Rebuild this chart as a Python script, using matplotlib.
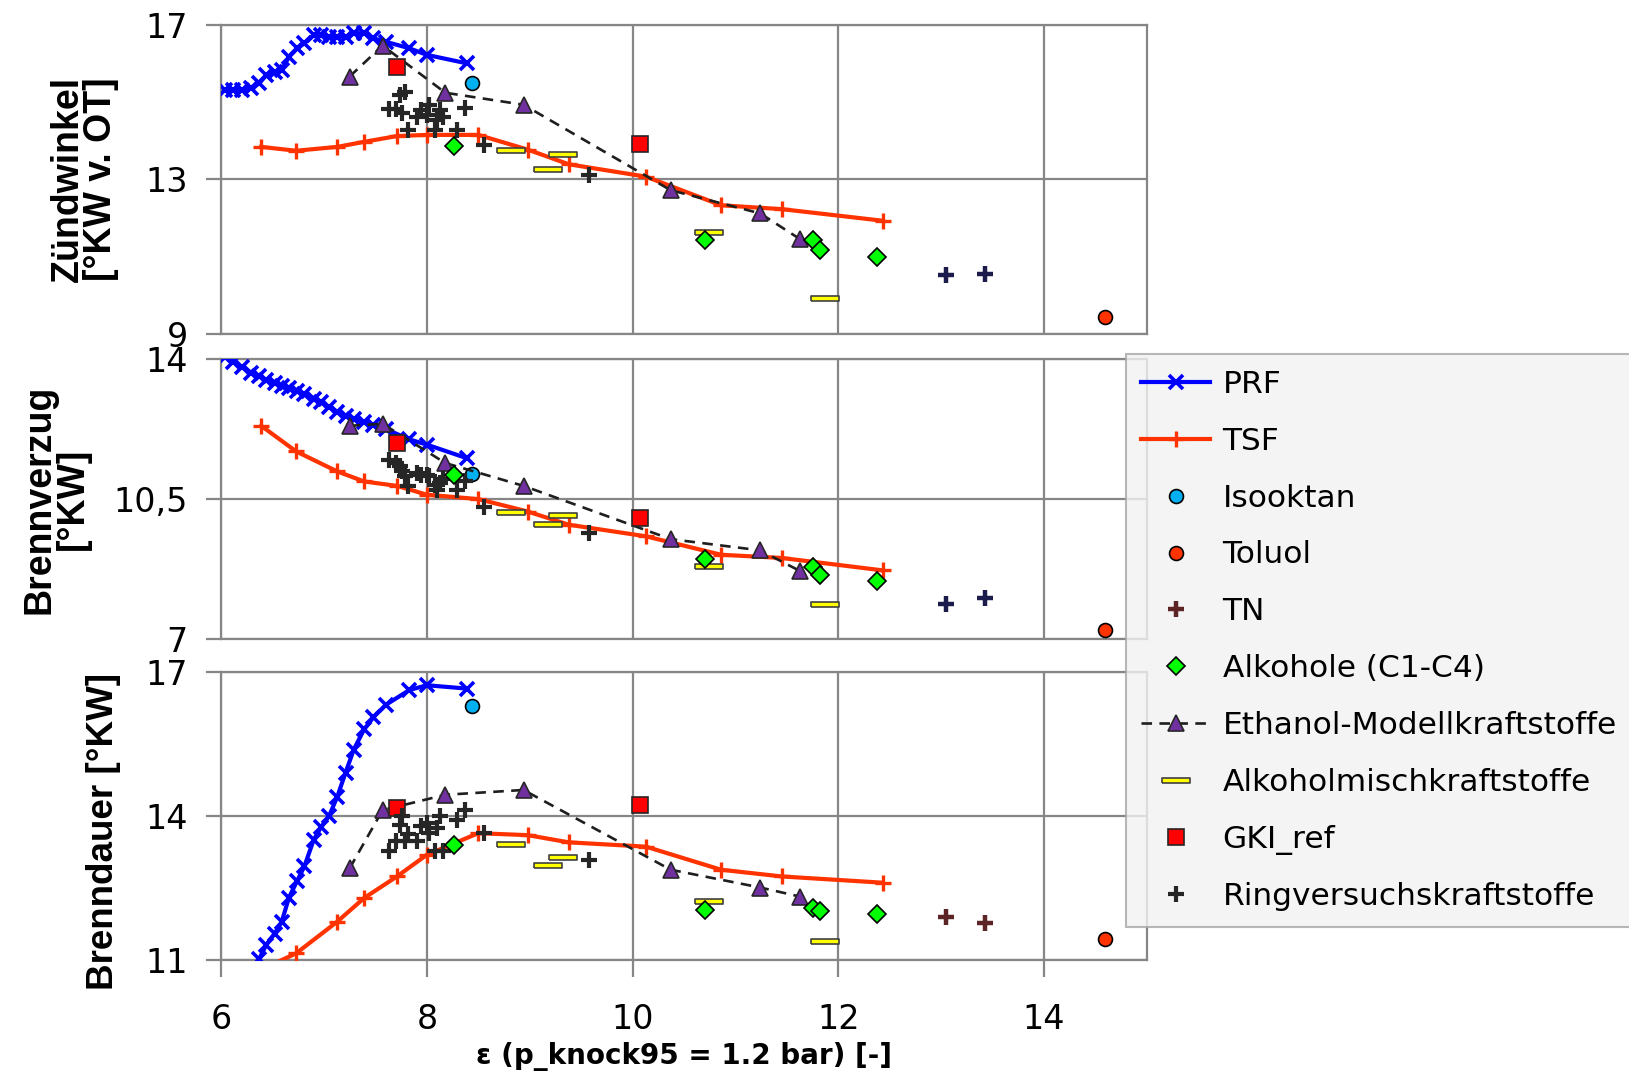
import numpy as np
import matplotlib
matplotlib.use("Agg")
import matplotlib.pyplot as plt
from matplotlib import font_manager

# --- data ------------------------------------------------------------------
prf_x = [6.04, 6.12, 6.20, 6.29, 6.37, 6.44, 6.52, 6.59, 6.66, 6.74, 6.81, 6.90,
         6.97, 7.05, 7.13, 7.21, 7.29, 7.39, 7.48, 7.60, 7.83, 8.00, 8.39]
prf_zw = [15.31, 15.31, 15.31, 15.35, 15.48, 15.70, 15.78, 15.83, 16.17, 16.39, 16.52, 16.73,
          16.73, 16.69, 16.69, 16.69, 16.78, 16.78, 16.65, 16.56, 16.39, 16.22, 16.00]
prf_bv = [14.05, 13.93, 13.80, 13.66, 13.57, 13.48, 13.40, 13.32, 13.28, 13.20, 13.12, 13.01,
          12.92, 12.80, 12.68, 12.57, 12.50, 12.42, 12.35, 12.25, 11.99, 11.86, 11.52]
prf_bd = [np.nan, np.nan, np.nan, np.nan, 11.02, 11.32, 11.55, 11.80, 12.30, 12.65, 12.95, 13.50,
          13.76, 14.00, 14.40, 14.90, 15.38, 15.80, 16.05, 16.31, 16.62, 16.72, 16.65]

tsf_x = [6.39, 6.73, 7.13, 7.39, 7.71, 8.00, 8.50, 8.98, 9.38, 10.13, 10.86, 11.45, 12.43]
tsf_zw = [13.84, 13.74, 13.84, 13.97, 14.12, 14.15, 14.15, 13.77, 13.39, 13.07, 12.33, 12.23, 11.93]
tsf_bv = [12.33, 11.69, 11.19, 10.94, 10.83, 10.61, 10.50, 10.19, 9.86, 9.57, 9.11, 9.03, 8.72]
tsf_bd = [10.80, 11.14, 11.80, 12.29, 12.74, 13.19, 13.64, 13.60, 13.45, 13.36, 12.88, 12.74, 12.61]

iso_x = [8.44]
iso_zw, iso_bv, iso_bd = [15.50], [11.13], [16.29]

tol_x = [14.59]
tol_zw, tol_bv, tol_bd = [9.43], [7.22], [11.44]

tn_x = [13.05, 13.43]
tn_zw = [10.53, 10.54]
tn_bv = [7.89, 8.03]
tn_bd = [11.89, 11.77]

alk_x = [8.26, 10.70, 11.75, 11.82, 12.38]
alk_zw = [13.87, 11.43, 11.43, 11.17, 11.00]
alk_bv = [11.09, 9.01, 8.80, 8.61, 8.46]
alk_bd = [13.40, 12.05, 12.08, 12.03, 11.96]

eth_x = [7.25, 7.57, 8.18, 8.94, 10.37, 11.24, 11.63]
eth_zw = [15.66, 16.46, 15.24, 14.93, 12.72, 12.12, 11.45]
eth_bv = [12.33, 12.38, 11.40, 10.83, 9.50, 9.22, 8.70]
eth_bd = [12.91, 14.12, 14.44, 14.54, 12.88, 12.51, 12.32]

mix_x = [8.82, 9.18, 9.32, 10.74, 11.87]
mix_zw = [13.75, 13.27, 13.65, 11.64, 9.93]
mix_bv = [10.19, 9.88, 10.11, 8.82, 7.88]
mix_bd = [13.42, 12.97, 13.15, 12.23, 11.39]

gki_x = [7.71, 10.07]
gki_zw = [15.91, 13.91]
gki_bv = [11.91, 10.03]
gki_bd = [14.16, 14.23]

ring_x = [7.63, 7.70, 7.74, 7.76, 7.79, 7.82, 7.90, 7.94, 8.00, 8.02, 8.08, 8.10,
          8.13, 8.16, 8.29, 8.37, 8.56, 9.58]
ring_zw = [14.81, 14.81, 15.18, 14.71, 15.27, 14.27, 14.62, 14.79, 14.66, 14.92, 14.27, 14.53,
           14.79, 14.62, 14.27, 14.84, 13.89, 13.11]
ring_bv = [11.48, 11.40, 11.32, 11.19, 11.07, 10.82, 11.15, 11.11, 11.11, 11.07, 10.86, 10.73,
           10.90, 11.00, 10.73, 10.94, 10.30, 9.65]
ring_bd = [13.26, 13.47, 13.81, 13.99, 13.47, 13.62, 13.47, 13.78, 13.85, 13.64, 13.26, 13.74,
           13.99, 13.26, 13.92, 14.12, 13.64, 13.08]

y_labels = ["Zündwinkel\n[°KW v. OT]", "Brennverzug\n[°KW]", "Brenndauer [°KW]"]
y_ticks = [[9, 13, 17], [7, 10.5, 14], [11, 14, 17]]
y_ticklabels = [["9", "13", "17"], ["7", "10,5", "14"], ["11", "14", "17"]]
x_ticks = [6, 8, 10, 12, 14]
x_label = "ε (p_knock95 = 1.2 bar) [-]"

# --- style -----------------------------------------------------------------
GRID = "#868686"
names = {f.name for f in font_manager.fontManager.ttflist}
if "Liberation Sans Narrow" in names:
    ylab_font, ylab_size = "Liberation Sans Narrow", 31
else:
    ylab_font, ylab_size = "Liberation Sans", 27

bar_marker = [(-1, -0.18), (1, -0.18), (1, 0.18), (-1, 0.18), (-1, -0.18)]

fig = plt.figure(figsize=(16.29, 10.74), dpi=100)

left, width = 0.1357, 0.5684
boxes = [(0.689, 0.288), (0.4048, 0.261), (0.1061, 0.2684)]
panels = [
    (prf_zw, tsf_zw, iso_zw, tol_zw, tn_zw, alk_zw, eth_zw, mix_zw, gki_zw, ring_zw, "#1c1c4c"),
    (prf_bv, tsf_bv, iso_bv, tol_bv, tn_bv, alk_bv, eth_bv, mix_bv, gki_bv, ring_bv, "#1c1c4c"),
    (prf_bd, tsf_bd, iso_bd, tol_bd, tn_bd, alk_bd, eth_bd, mix_bd, gki_bd, ring_bd, "#5c2424"),
]

axes = []
for i, (bottom, height) in enumerate(boxes):
    ax = fig.add_axes([left, bottom, width, height])
    prf, tsf, iso, tol, tn, alk, eth, mix, gki, ring, tn_col = panels[i]

    h_prf, = ax.plot(prf_x, prf, color="#0000ff", lw=3.0, marker="x", ms=10, mew=2.6,
                     label="PRF", zorder=4)
    h_tsf, = ax.plot(tsf_x, tsf, color="#ff3300", lw=3.0, marker="+", ms=12, mew=2.4,
                     label="TSF", zorder=4)
    h_iso, = ax.plot(iso_x, iso, ls="none", marker="o", ms=10, mfc="#00b0f0", mec="black",
                     mew=1.2, label="Isooktan", zorder=5)
    h_tol, = ax.plot(tol_x, tol, ls="none", marker="o", ms=10, mfc="#ff3300", mec="black",
                     mew=1.2, label="Toluol", zorder=5)
    h_tn, = ax.plot(tn_x, tn, ls="none", marker="+", ms=11, mew=3.2, color=tn_col,
                    label="TN", zorder=5)
    h_alk, = ax.plot(alk_x, alk, ls="none", marker="D", ms=9.5, mfc="#00ff00", mec="black",
                     mew=1.2, label="Alkohole (C1-C4)", zorder=6)
    h_eth, = ax.plot(eth_x, eth, color="#1e1e1e", lw=1.9, ls=(0, (4, 2.8)), marker="^", ms=12,
                     mfc="#7030a0", mec="#262626", mew=1.2,
                     label="Ethanol-Modellkraftstoffe", zorder=5)
    h_mix, = ax.plot(mix_x, mix, ls="none", marker=bar_marker, ms=20, mfc="#ffff00",
                     mec="#404040", mew=1.2, label="Alkoholmischkraftstoffe", zorder=5)
    h_gki, = ax.plot(gki_x, gki, ls="none", marker="s", ms=12, mfc="#ff0000", mec="#262626",
                     mew=1.2, label="GKI_ref", zorder=5)
    h_ring, = ax.plot(ring_x, ring, ls="none", marker="+", ms=11, mew=3.0, color="#262626",
                      label="Ringversuchskraftstoffe", zorder=5)

    ax.set_xlim(6, 15)
    ax.set_ylim(y_ticks[i][0], y_ticks[i][-1])
    ax.set_xticks(x_ticks)
    ax.set_yticks(y_ticks[i])
    ax.set_yticklabels(y_ticklabels[i])
    ax.set_axisbelow(True)
    ax.grid(True, color=GRID, lw=1.6)
    for sp in ax.spines.values():
        sp.set_color(GRID)
        sp.set_linewidth(1.6)
    ax.tick_params(axis="y", direction="out", length=11, width=1.6, color=GRID,
                   labelsize=24, pad=13)
    if i < 2:
        ax.tick_params(axis="x", length=0, labelbottom=False)
    else:
        ax.tick_params(axis="x", direction="out", length=12, width=1.6, color=GRID,
                       labelsize=24, pad=19)
    axes.append(ax)

handles = [h_prf, h_tsf, h_iso, h_tol, h_tn, h_alk, h_eth, h_mix, h_gki, h_ring]
leg = fig.legend(handles=handles, loc="upper left", bbox_to_anchor=(0.691, 0.670),
                 fontsize=22.5, frameon=True, fancybox=False, borderpad=0.5,
                 labelspacing=0.89, handlelength=2.2, handletextpad=0.4,
                 borderaxespad=0.0)
leg.get_frame().set_facecolor("#f2f2f2")
leg.get_frame().set_edgecolor("#a6a6a6")
leg.get_frame().set_linewidth(1.5)

fig.text(0.0516, 0.833, y_labels[0], rotation=90, ha="center", va="center",
         multialignment="center", fontsize=ylab_size, fontweight="bold",
         family=ylab_font, linespacing=0.9)
fig.text(0.0344, 0.5354, y_labels[1], rotation=90, ha="center", va="center",
         multialignment="center", fontsize=ylab_size, fontweight="bold",
         family=ylab_font, linespacing=0.9)
fig.text(0.0638, 0.226, y_labels[2], rotation=90, ha="center", va="center",
         fontsize=ylab_size - 0.5, fontweight="bold", family=ylab_font)
fig.text(0.42, 0.016, x_label, ha="center", va="center", fontsize=20,
         fontweight="bold")

fig.savefig("out.png", dpi=100)
